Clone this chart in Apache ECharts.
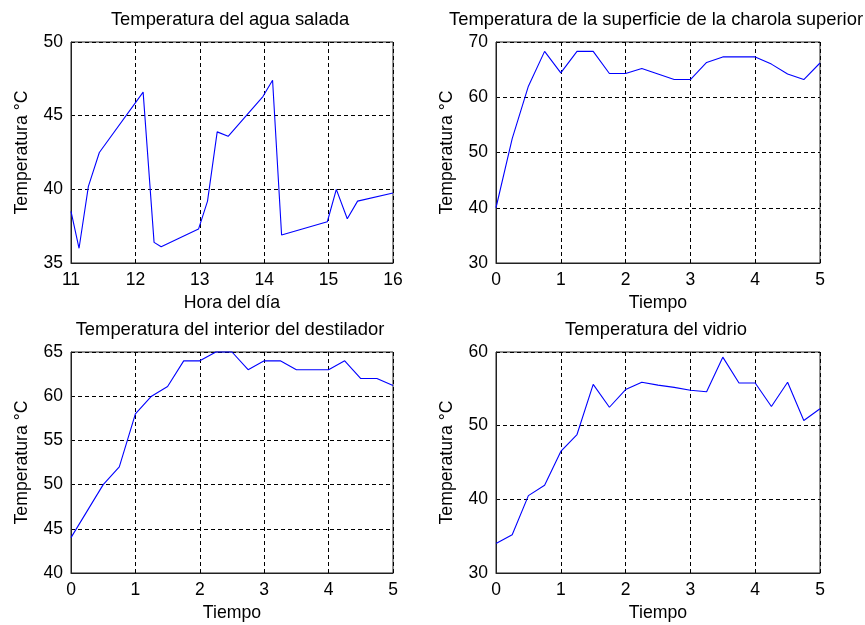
<!DOCTYPE html>
<html>
<head>
<meta charset="utf-8">
<script src="https://cdn.jsdelivr.net/npm/echarts@6/dist/echarts.min.js"></script>
<style>
html,body{margin:0;padding:0;background:#fff;}
#main{width:865px;height:625px;}
</style>
</head>
<body>
<div id="main"></div>
<script>
// Plot 1: Temperatura del agua salada (hour of day vs temperature)
const aguaHora = [11, 11.125, 11.27, 11.44, 12.12, 12.29, 12.40, 12.98, 13.12, 13.27, 13.44, 13.98, 14.13, 14.27, 14.98, 15.12, 15.29, 15.45, 16];
const aguaTemp = [38.5, 36.0, 40.2, 42.5, 46.6, 36.4, 36.1, 37.3, 39.2, 43.9, 43.6, 46.3, 47.4, 36.9, 37.8, 40.0, 38.0, 39.2, 39.75];

// Common time axis for plots 2-4
const tiempo = [0, 0.25, 0.5, 0.75, 1, 1.25, 1.5, 1.75, 2, 2.25, 2.5, 2.75, 3, 3.25, 3.5, 3.75, 4, 4.25, 4.5, 4.75, 5];
// Plot 2: Temperatura de la superficie de la charola superior
const charolaTemp = [40, 52.5, 62, 68.3, 64.4, 68.3, 68.3, 64.3, 64.3, 65.2, 64.2, 63.2, 63.2, 66.3, 67.3, 67.3, 67.3, 66, 64.2, 63.2, 66.2];
// Plot 3: Temperatura del interior del destilador
const interiorTemp = [44, 47, 50, 52, 58, 60, 61.1, 64, 64, 65, 65, 63, 64, 64, 63, 63, 63, 64, 62, 62, 61.2];
// Plot 4: Temperatura del vidrio
const vidrioTemp = [34.0, 35.2, 40.5, 41.9, 46.5, 48.8, 55.6, 52.5, 54.9, 55.9, 55.5, 55.2, 54.8, 54.6, 59.3, 55.8, 55.8, 52.6, 55.9, 50.7, 52.3];

const titles = ['Temperatura del agua salada', 'Temperatura de la superficie de la charola superior', 'Temperatura del interior del destilador', 'Temperatura del vidrio'];
const xNames = ['Hora del día', 'Tiempo', 'Tiempo', 'Tiempo'];
const yName = 'Temperatura °C';
const xRanges = [[11, 16, 1], [0, 5, 1], [0, 5, 1], [0, 5, 1]];
const yRanges = [[35, 50, 5], [30, 70, 10], [40, 65, 5], [30, 60, 10]];

const FONT = "'Liberation Sans', Arial, sans-serif";
const grids = [
  {left: 71, top: 42, width: 322, height: 221},
  {left: 496, top: 42, width: 324, height: 221},
  {left: 71, top: 352, width: 322, height: 221},
  {left: 496, top: 352, width: 324, height: 221}
];
const seriesData = [
  aguaHora.map((h, i) => [h, aguaTemp[i]]),
  tiempo.map((t, i) => [t, charolaTemp[i]]),
  tiempo.map((t, i) => [t, interiorTemp[i]]),
  tiempo.map((t, i) => [t, vidrioTemp[i]])
];

const splitStyle = {show: true, lineStyle: {color: '#000', width: 1, type: [4, 3]}};
const option = {
  backgroundColor: '#fff',
  animation: false,
  grid: grids.map(g => Object.assign({show: true, borderColor: '#222', borderWidth: 1, backgroundColor: '#fff'}, g)),
  xAxis: grids.map((g, i) => ({
    type: 'value', gridIndex: i,
    min: xRanges[i][0], max: xRanges[i][1], interval: xRanges[i][2],
    name: xNames[i], nameLocation: 'middle', nameGap: 31,
    nameTextStyle: {fontFamily: FONT, fontSize: 17.7, color: '#000'},
    axisLine: {show: true, lineStyle: {color: '#222', width: 1}},
    axisTick: {show: false},
    axisLabel: {margin: 8, fontFamily: FONT, fontSize: 17.5, color: '#000', showMinLabel: true, showMaxLabel: true},
    splitLine: splitStyle
  })),
  yAxis: grids.map((g, i) => ({
    type: 'value', gridIndex: i,
    min: yRanges[i][0], max: yRanges[i][1], interval: yRanges[i][2],
    name: yName, nameLocation: 'middle', nameGap: 40,
    nameTextStyle: {fontFamily: FONT, fontSize: 17.7, color: '#000'},
    axisLine: {show: true, lineStyle: {color: '#222', width: 1}},
    axisTick: {show: false},
    axisLabel: {margin: 8, fontFamily: FONT, fontSize: 17.5, color: '#000', showMinLabel: true, showMaxLabel: true},
    splitLine: splitStyle
  })),
  series: seriesData.map((d, i) => ({
    type: 'line', xAxisIndex: i, yAxisIndex: i, data: d,
    showSymbol: false, symbol: 'none',
    lineStyle: {color: '#0000ff', width: 1.1},
    clip: false
  })),
  graphic: titles.map((t, i) => ({
    type: 'text',
    x: grids[i].left + grids[i].width / 2 - 2,
    y: grids[i].top - 31,
    style: {text: t, fill: '#000', font: '18.4px ' + FONT, align: 'center', verticalAlign: 'top'}
  }))
};
const chart = echarts.init(document.getElementById('main'), null, {renderer: 'canvas'});
chart.setOption(option);
</script>
</body>
</html>
